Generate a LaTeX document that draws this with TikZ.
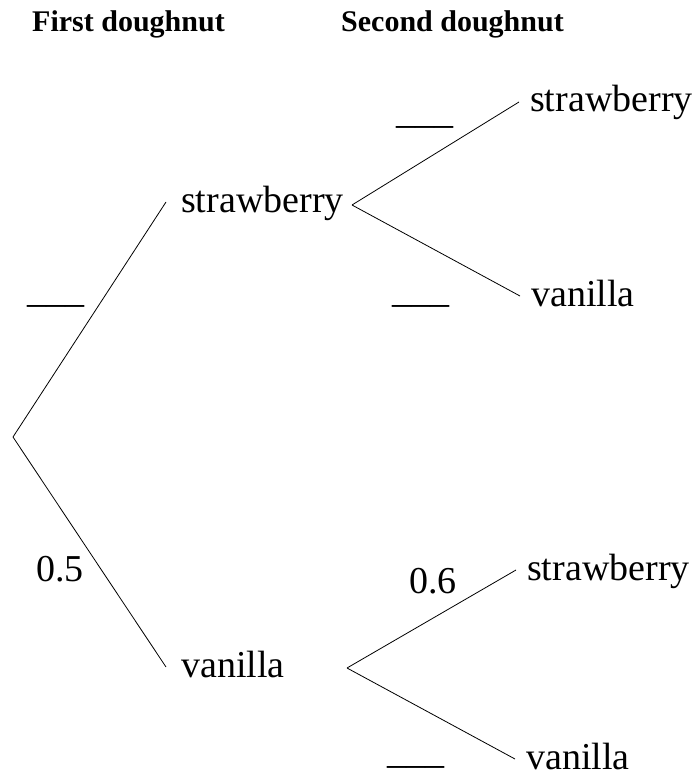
\documentclass[tikz,border=0pt]{standalone}
\usepackage{fontspec}
\setmainfont{Liberation Serif}
\tikzset{
  every picture/.style={x=1pt,y=-1pt},
  header/.style={font=\fontsize{30}{36}\selectfont\bfseries, anchor=base west, inner sep=0pt},
  txt/.style={font=\fontsize{38}{44}\selectfont, anchor=base west, inner sep=0pt},
  leaf/.style={txt, inner xsep=11pt, text height=23pt, text depth=3pt},
  firstleaf/.style={leaf, inner xsep=15pt},
  branch/.style={line width=0.8pt, black},
}
\begin{document}
\begin{tikzpicture}
  \useasboundingbox (0,0) rectangle (696,778);

  % column headings
  \node[header] (h1) at (32,32) {First doughnut};
  \node[header] (h2) at (341,32) {Second doughnut};

  % fork points of the tree
  \coordinate (root) at (13,437);
  \coordinate (f1) at (352,205);
  \coordinate (f2) at (347,668);

  % first doughnut outcomes
  \node[firstleaf] (s1) at (166,212) {strawberry};
  \node[firstleaf] (v1) at (166,677) {vanilla};

  % second doughnut outcomes
  \node[leaf] (s11) at (519,112) {strawberry};
  \node[leaf] (v12) at (520,306) {vanilla};
  \node[leaf] (s21) at (516,580) {strawberry};
  \node[leaf] (v22) at (515,769) {vanilla};

  % branches
  \draw[branch] (root) -- (s1.west);
  \draw[branch] (root) -- (v1.west);
  \draw[branch] (f1) -- (s11.west);
  \draw[branch] (f1) -- (v12.west);
  \draw[branch] (f2) -- (s21.west);
  \draw[branch] (f2) -- (v22.west);

  % probabilities and blanks
  \node[txt] (p1) at (27,302) {\_\_\_};
  \node[txt] (p2) at (36,581) {0.5};
  \node[txt] (p11) at (396,124) {\_\_\_};
  \node[txt] (p12) at (392,302) {\_\_\_};
  \node[txt] (p21) at (409,593) {0.6};
  \node[txt] (p22) at (387,763) {\_\_\_};
\end{tikzpicture}
\end{document}
